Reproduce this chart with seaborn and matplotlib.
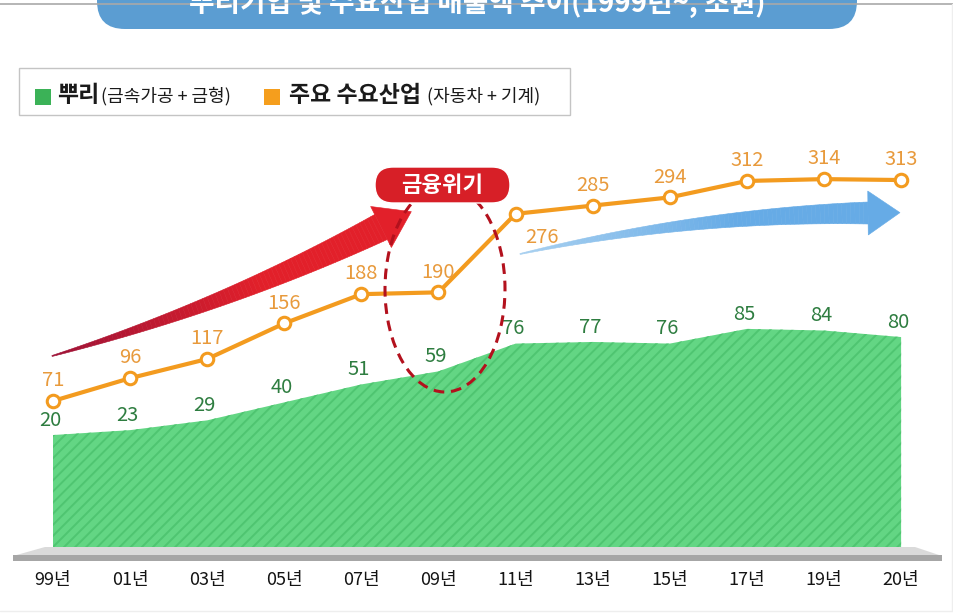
import numpy as np
import pandas as pd
import matplotlib
matplotlib.use('Agg')
import matplotlib.pyplot as plt
import seaborn as sns
from matplotlib.patches import FancyBboxPatch, Rectangle, Ellipse, Polygon
from matplotlib.colors import to_rgb

# ---------------- data ----------------
years = ['99년', '01년', '03년', '05년', '07년', '09년', '11년', '13년', '15년', '17년', '19년', '20년']
root_sales = [20, 23, 29, 40, 51, 59, 76, 77, 76, 85, 84, 80]
demand_sales = [71, 96, 117, 156, 188, 190, 276, 285, 294, 312, 314, 313]
title = '뿌리기업 및 수요산업 매출액 추이(1999년~, 조원)'
legend_root = '뿌리'
legend_root_sub = '(금속가공 + 금형)'
legend_demand = '주요 수요산업'
legend_demand_sub = '(자동차 + 기계)'
crisis_label = '금융위기'

# ---------------- style ----------------
sns.set_theme(style='white')
plt.rcParams['font.family'] = ['Noto Sans CJK KR', 'DejaVu Sans']
plt.rcParams['hatch.linewidth'] = 1.4

GREEN_FILL = '#63d684'
GREEN_HATCH = '#4fc571'
GREEN_TEXT = '#2e7d40'
ORANGE = '#f39b1f'
ORANGE_TEXT = '#e89a3c'

df = pd.DataFrame({'idx': np.arange(len(years)), 'year': years,
                   'root': root_sales, 'demand': demand_sales})

W, H = 954, 615
fig = plt.figure(figsize=(W / 100, H / 100), dpi=100)
fig.patch.set_facecolor('white')

ax_bottom_px, ax_top_px = 550, 130
ax_g = fig.add_axes([0, 1 - ax_bottom_px / H, 1, (ax_bottom_px - ax_top_px) / H])
ax_g.set_xlim(-53 / 77.1, (W - 53) / 77.1)
ax_g.set_ylim(-50.4, 206.8)
ax_o = ax_g.twinx()
ax_o.set_ylim(-92.2, 367.8)

# green area (뿌리)
ax_g.fill_between(df['idx'], -50.4, df['root'], facecolor=GREEN_FILL,
                  edgecolor=GREEN_HATCH, hatch='///', linewidth=0, zorder=1)
for i, v in enumerate(root_sales):
    ax_g.annotate(str(v), (i, v), xytext=(-2, 3), textcoords='offset points',
                  ha='center', va='bottom', fontsize=14.5, color=GREEN_TEXT)

# orange line (주요 수요산업)
sns.lineplot(data=df, x='idx', y='demand', ax=ax_o, color=ORANGE, linewidth=3,
             marker='o', markersize=9, markerfacecolor='white',
             markeredgecolor=ORANGE, markeredgewidth=2.2, zorder=3)
below_labels = {'11년'}
for i, v in enumerate(demand_sales):
    if years[i] in below_labels:
        ax_o.annotate(str(v), (i, v), xytext=(19, -17), textcoords='offset points',
                      ha='center', va='center', fontsize=14.5, color=ORANGE_TEXT)
    else:
        ax_o.annotate(str(v), (i, v), xytext=(0, 7), textcoords='offset points',
                      ha='center', va='bottom', fontsize=14.5, color=ORANGE_TEXT)

ax_g.set_xticks(df['idx'], labels=years)
ax_g.tick_params(axis='x', length=0, pad=15, labelsize=13, colors='#141414')
ax_g.set_yticks([])
ax_o.set_yticks([])
ax_g.set_xlabel('')
ax_g.set_ylabel('')
ax_o.set_xlabel('')
ax_o.set_ylabel('')
for a in (ax_g, ax_o):
    for s in a.spines.values():
        s.set_visible(False)

# ---------------- overlay decorations (pixel coords) ----------------
ov = fig.add_axes([0, 0, 1, 1], zorder=10)
ov.set_xlim(0, W)
ov.set_ylim(H, 0)
ov.axis('off')
ov.patch.set_alpha(0)


def tapered_arrow(ax, p0, p1, p2, w0, w1, head_w, head_len, c0, c1, n=80):
    p0, p1, p2 = map(np.array, (p0, p1, p2))
    t = np.linspace(0, 1, n + 1)
    tt = t[:, None]
    pts = (1 - tt) ** 2 * p0 + 2 * (1 - tt) * tt * p1 + tt ** 2 * p2
    d = 2 * (1 - tt) * (p1 - p0) + 2 * tt * (p2 - p1)
    d = d / np.linalg.norm(d, axis=1)[:, None]
    nrm = np.stack([-d[:, 1], d[:, 0]], axis=1)
    w = w0 + (w1 - w0) * t
    up = pts + nrm * w[:, None]
    lo = pts - nrm * w[:, None]
    c0 = np.array(to_rgb(c0))
    c1 = np.array(to_rgb(c1))
    for i in range(n):
        f = min(1.0, (i / (n - 1)) * 1.6)
        col = c0 + (c1 - c0) * f
        ax.add_patch(Polygon([up[i], up[i + 1], lo[i + 1], lo[i]], closed=True,
                             facecolor=col, edgecolor=col, lw=0.4))
    tip = p2 + d[-1] * head_len
    ax.add_patch(Polygon([p2 + nrm[-1] * head_w, tip, p2 - nrm[-1] * head_w],
                         closed=True, facecolor=c1, edgecolor=c1, lw=0.4))


# top rule and title box
ov.plot([0, W], [4, 4], color='#a9a9a9', lw=1.2)
ov.add_patch(FancyBboxPatch((97, -45), 760, 74,
                            boxstyle='round,pad=0,rounding_size=28',
                            facecolor='#5b9dd2', edgecolor='none'))
ov.text(477, 3, title, ha='center', va='center', fontsize=20,
        fontweight='bold', color='white')

# faint frame
ov.plot([952, 952], [4, 611], color='#eeeeee', lw=1)
ov.plot([0, 952], [611, 611], color='#eeeeee', lw=1)

# legend box
ov.add_patch(Rectangle((19, 68), 551, 47, facecolor='white',
                       edgecolor='#c4c4c4', lw=1))
ov.add_patch(Rectangle((35, 89), 16, 16, facecolor='#3bb257', edgecolor='none'))
t1 = ov.text(57, 96, legend_root, ha='left', va='center', fontsize=16.5,
             fontweight='bold', color='#1a1a1a')
ov.annotate(legend_root_sub, xy=(1, 0.5), xycoords=t1, xytext=(1, 0),
            textcoords='offset points', ha='left', va='center',
            fontsize=13, color='#1a1a1a')
ov.add_patch(Rectangle((264, 89), 16, 16, facecolor='#f59e1d', edgecolor='none'))
t2 = ov.text(289, 96, legend_demand, ha='left', va='center', fontsize=16.5,
             fontweight='bold', color='#1a1a1a')
ov.annotate(legend_demand_sub, xy=(1, 0.5), xycoords=t2, xytext=(4, 0),
            textcoords='offset points', ha='left', va='center',
            fontsize=13, color='#1a1a1a')

# arrows
tapered_arrow(ov, (52, 356), (227, 305), (381, 227), 0.5, 14, 23, 34,
              '#9e1236', '#e2202a')
tapered_arrow(ov, (520, 254), (694, 215), (868, 213), 0.5, 11, 22, 32,
              '#a8d0f0', '#66abe6')

# crisis ellipse and label
ov.add_patch(Ellipse((445, 289), 120, 206, fill=False, edgecolor='#b3111d',
                     lw=2.2, ls=(0, (3.5, 2.2))))
ov.add_patch(FancyBboxPatch((375, 167), 135, 36,
                            boxstyle='round,pad=0,rounding_size=18',
                            facecolor='#d71f27', edgecolor='white', lw=1))
ov.text(442, 185, crisis_label, ha='center', va='center', fontsize=16,
        fontweight='bold', color='white')

# platform under the area
ov.add_patch(Polygon([(13, 556), (45, 547), (915, 547), (942, 556)], closed=True,
                     facecolor='#dadada', edgecolor='none'))
ov.add_patch(Rectangle((13, 555), 929, 6, facecolor='#a6a6a6', edgecolor='none'))

fig.savefig('out.png', dpi=100, facecolor='white')
